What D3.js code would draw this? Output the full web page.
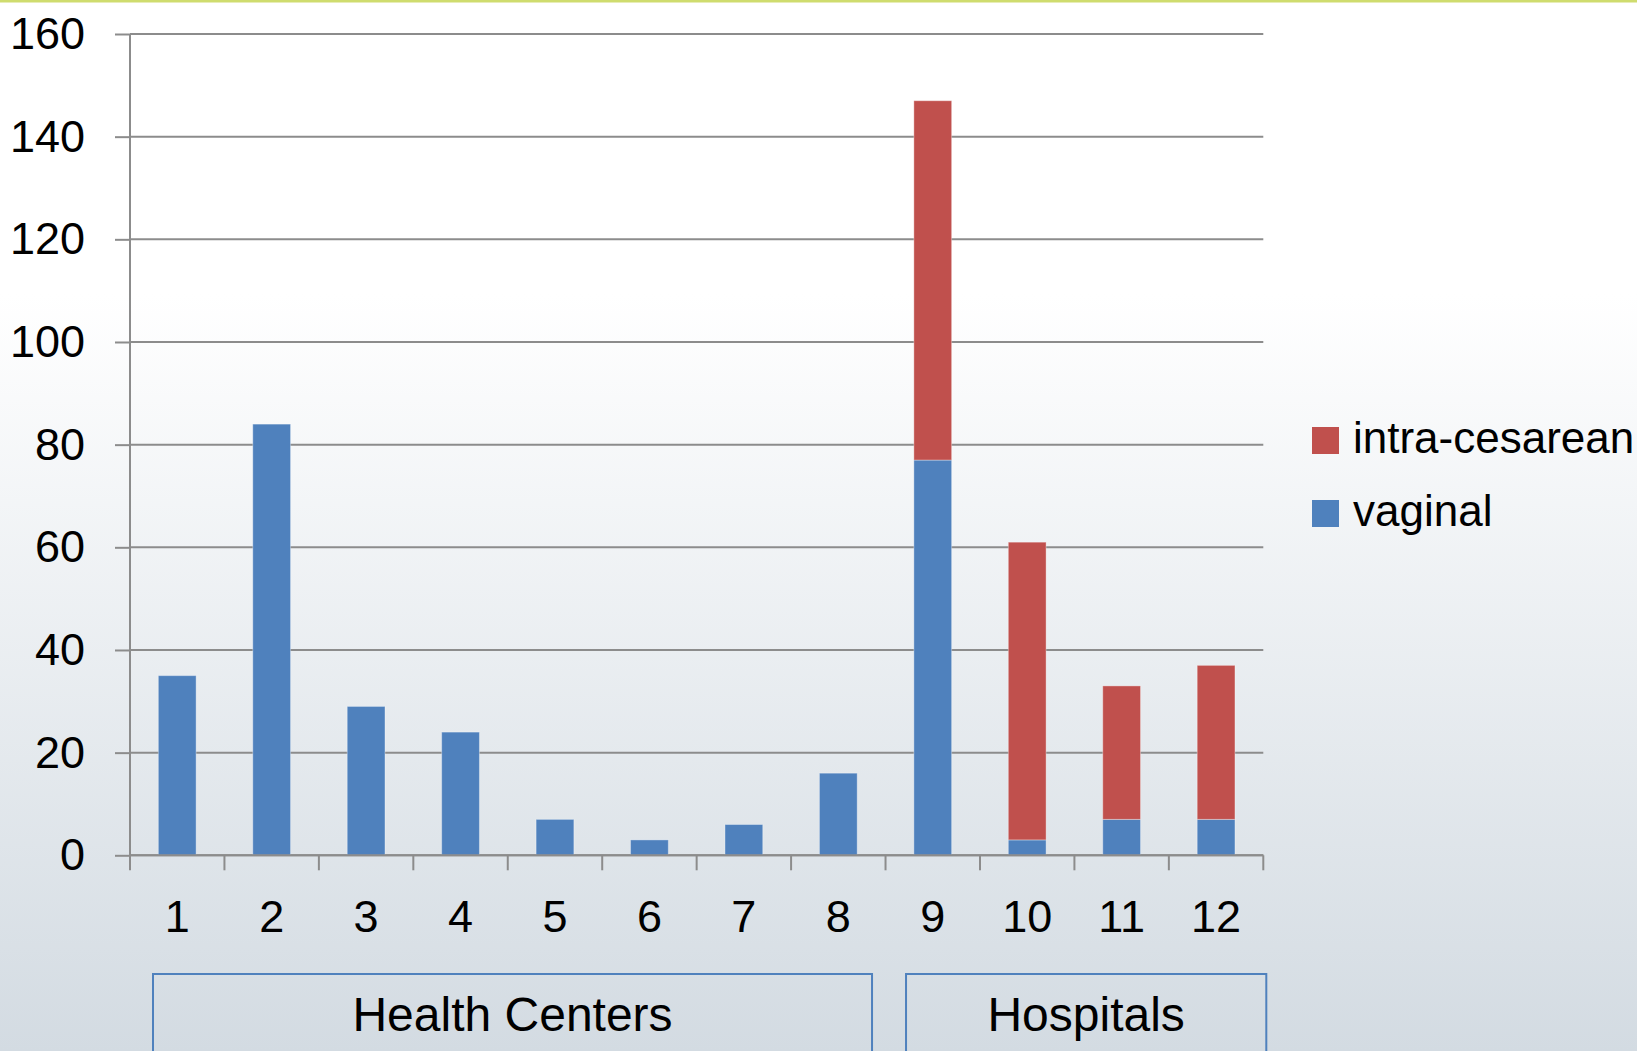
<!DOCTYPE html>
<html>
<head>
<meta charset="utf-8">
<script src="https://cdn.jsdelivr.net/npm/d3@7"></script>
<style>
  body { margin: 0; overflow: hidden; }
  text { font-family: "Liberation Sans", Arial, sans-serif; fill: #000; }
</style>
</head>
<body>
<script>
// data
const categories = ["1", "2", "3", "4", "5", "6", "7", "8", "9", "10", "11", "12"];
const vaginal = [35, 84, 29, 24, 7, 3, 6, 16, 77, 3, 7, 7];
const intraCesarean = [0, 0, 0, 0, 0, 0, 0, 0, 70, 58, 26, 30];
const seriesNames = ["vaginal", "intra-cesarean"];
const yTicks = [0, 20, 40, 60, 80, 100, 120, 140, 160];
const groupNames = ["Health Centers", "Hospitals"];
const groupSpans = [["1", "8"], ["9", "12"]];

const colors = { "vaginal": "#4f81bd", "intra-cesarean": "#c0504d" };

const width = 1637, height = 1051;
const plot = { left: 130, right: 1263.3, top: 34, bottom: 855.3 };

const svg = d3.select("body").append("svg")
    .attr("width", width)
    .attr("height", height);

// background gradient like the slide
const defs = svg.append("defs");
const grad = defs.append("linearGradient")
    .attr("id", "bg").attr("x1", 0).attr("y1", 0).attr("x2", 0).attr("y2", 1);
grad.append("stop").attr("offset", "0%").attr("stop-color", "#ffffff");
grad.append("stop").attr("offset", "28%").attr("stop-color", "#ffffff");
grad.append("stop").attr("offset", "100%").attr("stop-color", "#d3dbe2");
svg.append("rect").attr("width", width).attr("height", height).attr("fill", "url(#bg)");
svg.append("rect").attr("width", width).attr("height", 2.5).attr("fill", "#cfdc6e");

const x = d3.scaleBand()
    .domain(categories)
    .range([plot.left, plot.right])
    .paddingInner(0.6)
    .paddingOuter(0.3);

const xBand = d3.scaleBand()
    .domain(categories)
    .range([plot.left, plot.right]);

const y = d3.scaleLinear()
    .domain([0, 160])
    .range([plot.bottom, plot.top]);

// gridlines + y labels
const yAxis = svg.append("g")
    .attr("transform", "translate(" + plot.left + ",0)")
    .call(d3.axisLeft(y).tickValues(yTicks).tickSize(15).tickPadding(30));
yAxis.select(".domain").remove();
yAxis.selectAll(".tick line").attr("stroke", "#8c8c8c").attr("stroke-width", 2);
yAxis.selectAll(".tick text").style("font-size", "45px").style("font-family", "Liberation Sans, Arial, sans-serif");

svg.append("g")
    .selectAll("line")
    .data(yTicks)
    .enter()
    .append("line")
    .attr("x1", plot.left)
    .attr("x2", plot.right)
    .attr("y1", d => y(d))
    .attr("y2", d => y(d))
    .attr("stroke", "#8c8c8c")
    .attr("stroke-width", 2);

// vertical axis line
svg.append("line")
    .attr("x1", plot.left).attr("x2", plot.left)
    .attr("y1", plot.top).attr("y2", plot.bottom)
    .attr("stroke", "#8c8c8c").attr("stroke-width", 2);

// stacked bars
const rows = categories.map((c, i) => ({ cat: c, "vaginal": vaginal[i], "intra-cesarean": intraCesarean[i] }));
const stacked = d3.stack().keys(seriesNames)(rows);

svg.append("g")
    .selectAll("g")
    .data(stacked)
    .enter()
    .append("g")
    .attr("fill", d => colors[d.key])
    .selectAll("rect")
    .data(d => d.filter(s => s[1] - s[0] > 0))
    .enter()
    .append("rect")
    .attr("x", d => x(d.data.cat))
    .attr("y", d => y(d[1]))
    .attr("width", x.bandwidth())
    .attr("height", d => y(d[0]) - y(d[1]))
    .attr("stroke", "#ffffff")
    .attr("stroke-opacity", 0.35)
    .attr("stroke-width", 1);

// x axis with ticks between categories
const xAxisG = svg.append("g");
xAxisG.append("line")
    .attr("x1", plot.left).attr("x2", plot.right)
    .attr("y1", plot.bottom).attr("y2", plot.bottom)
    .attr("stroke", "#8c8c8c").attr("stroke-width", 2);
const boundaries = categories.map(c => xBand(c)).concat([plot.right]);
xAxisG.selectAll(".xt")
    .data(boundaries)
    .enter()
    .append("line")
    .attr("x1", d => d).attr("x2", d => d)
    .attr("y1", plot.bottom).attr("y2", plot.bottom + 15)
    .attr("stroke", "#8c8c8c").attr("stroke-width", 2);
xAxisG.selectAll(".xl")
    .data(categories)
    .enter()
    .append("text")
    .attr("x", d => xBand(d) + xBand.bandwidth() / 2)
    .attr("y", 932)
    .attr("text-anchor", "middle")
    .style("font-size", "45px")
    .text(d => d);

// group boxes under the axis (boxes sit a little inside / outside the bands, like the slide)
const boxInset = [[23, -13.5], [20.5, 3]];
const groups = svg.append("g");
groupNames.forEach((name, i) => {
    const x0 = xBand(groupSpans[i][0]) + boxInset[i][0];
    const x1 = xBand(groupSpans[i][1]) + xBand.bandwidth() + boxInset[i][1];
    groups.append("rect")
        .attr("x", x0).attr("y", 974)
        .attr("width", x1 - x0).attr("height", 100)
        .attr("fill", "none")
        .attr("stroke", "#4f81bd")
        .attr("stroke-width", 2);
    groups.append("text")
        .attr("x", (x0 + x1) / 2)
        .attr("y", 1031)
        .attr("text-anchor", "middle")
        .style("font-size", "48px")
        .text(name);
});

// legend
const legendItems = ["intra-cesarean", "vaginal"];
const legend = svg.append("g").attr("transform", "translate(1312,427)");
legendItems.forEach((name, i) => {
    const row = legend.append("g").attr("transform", "translate(0," + (i * 73) + ")");
    row.append("rect")
        .attr("width", 27).attr("height", 27)
        .attr("fill", colors[name]);
    row.append("text")
        .attr("x", 41).attr("y", 26)
        .style("font-size", "44px")
        .text(name);
});
</script>
</body>
</html>
